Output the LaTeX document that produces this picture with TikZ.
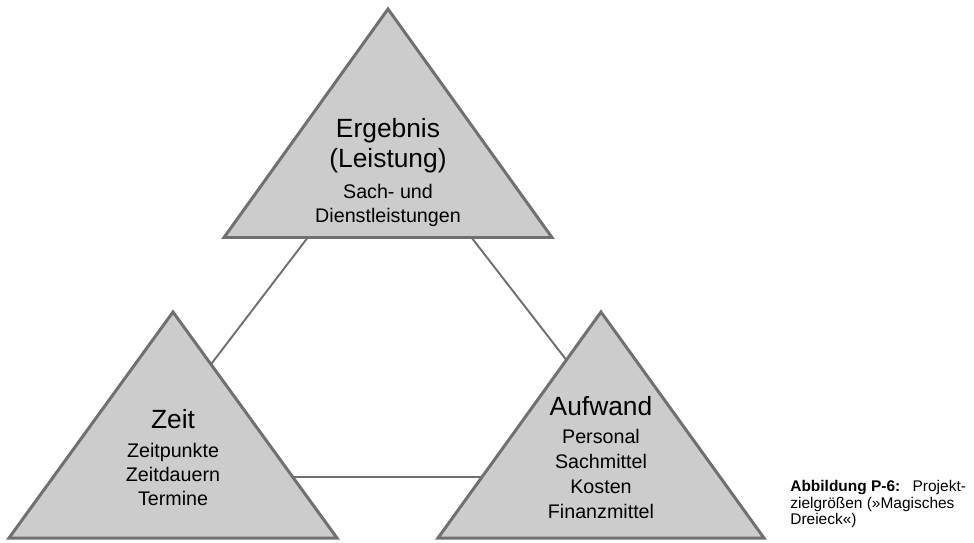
\documentclass[tikz,border=0pt]{standalone}
\usepackage{fontspec}
\setmainfont{Liberation Sans}
\usepackage{tikz}
\usepackage{xcolor}
\definecolor{randgrau}{gray}{0.44}
\definecolor{flaeche}{gray}{0.8}

\begin{document}
\begin{tikzpicture}[
    dreieck/.style={draw=randgrau,fill=flaeche,line width=1.7pt,line join=miter},
    kante/.style={draw=randgrau,line width=1.1pt},
    titel/.style={font=\fontsize{15}{17}\selectfont,align=center,inner sep=0pt},
    liste/.style={font=\fontsize{11.2}{13.6}\selectfont,align=center,inner sep=0pt,anchor=north}
]
    \useasboundingbox (0,0) rectangle (19.48,10.84);
    \coordinate (ergebnis) at (7.78,8.22);
    \coordinate (zeit) at (2.50,1.30);
    \coordinate (aufwand) at (13.14,1.30);
    \draw[kante] (ergebnis)--(zeit)--(aufwand)--cycle;
    \draw[dreieck] (7.76,10.66)--(4.48,6.09)--(11.04,6.09)--cycle;
    \draw[dreieck] (3.46,4.60)--(0.18,0.08)--(6.74,0.08)--cycle;
    \draw[dreieck] (12.02,4.60)--(8.76,0.08)--(15.28,0.08)--cycle;
    \node[titel,anchor=north] (ergebnistitel) at (7.76,8.48) {Ergebnis\\(Leistung)};
    \node[liste] (ergebnisliste) at (7.76,7.16) {Sach- und\\Dienstleistungen};
    \node[titel,anchor=base] (zeittitel) at (3.46,2.28) {Zeit};
    \node[liste] (zeitliste) at (3.46,1.98) {Zeitpunkte\\Zeitdauern\\Termine};
    \node[titel,anchor=base] (aufwandtitel) at (12.02,2.54) {Aufwand};
    \node[liste,font=\fontsize{11.2}{14.2}\selectfont] (aufwandliste) at (12.02,2.26) {Personal\\Sachmittel\\Kosten\\Finanzmittel};
    \node[anchor=north west,align=left,inner sep=0pt,font=\fontsize{8.8}{9.5}\selectfont] (unterschrift) at (15.80,1.24) {\textbf{Abbildung P-6:}\hspace{0.8em}Projekt-\\zielgrößen (»Magisches\\Dreieck«)};
\end{tikzpicture}
\end{document}
